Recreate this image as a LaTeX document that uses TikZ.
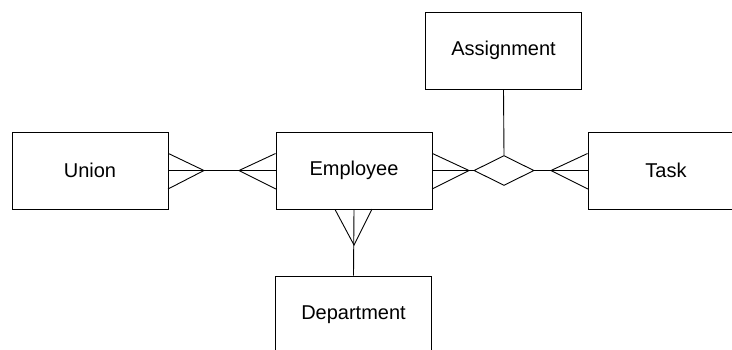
\documentclass[tikz,border=0pt]{standalone}
\usepackage{fontspec}
\setmainfont{Liberation Sans}
\usetikzlibrary{shapes.geometric}
\begin{document}
\begin{tikzpicture}[x=1pt,y=-1pt,line width=0.9pt,
  entity/.style={draw,minimum width=156pt,minimum height=77pt,inner sep=0pt,font=\fontsize{20}{24}\selectfont},
  rel/.style={draw,diamond,aspect=2,minimum width=60pt,minimum height=30pt,inner sep=0pt}]
\useasboundingbox (0,0) rectangle (732,349);
\begin{scope}
\clip (0,0) rectangle (732,349);
\node[entity] (union) at (90,170.5) {Union};
\node[entity] (emp) at (354,170.5) {Employee};
\node[entity] (task) at (666,170.5) {Task};
\node[entity] (asg) at (503.5,50.5) {Assignment};
\node[entity] (dept) at (353.5,314.5) {Department};
\node[rel] (dia) at (504,170.5) {};
\end{scope}
% crow's feet
\coordinate (u1) at (204,170.5);
\coordinate (e1) at (239,170.5);
\coordinate (e2) at (469,170.5);
\coordinate (t1) at (551,170.5);
\coordinate (d1) at (354,245);
\draw (union.east) ++(0,-17) -- (u1) -- ++(-36,18.5);
\draw (union.east) -- (u1) -- (e1) -- (emp.west);
\draw (emp.west) ++(0,-17) -- (e1) -- ++(37,18.5);
\draw (emp.east) ++(0,-17) -- (e2) -- ++(-37,18.5);
\draw (emp.east) -- (dia.west);
\draw (task.west) ++(0,-17) -- (t1) -- ++(37,18.5);
\draw (dia.east) -- (task.west);
\draw (emp.south) ++(-19,0) -- (d1) -- ++(18,-36);
\draw (emp.south) -- (dept.north);
\draw (asg.south) -- (dia.north);
\end{tikzpicture}
\end{document}
